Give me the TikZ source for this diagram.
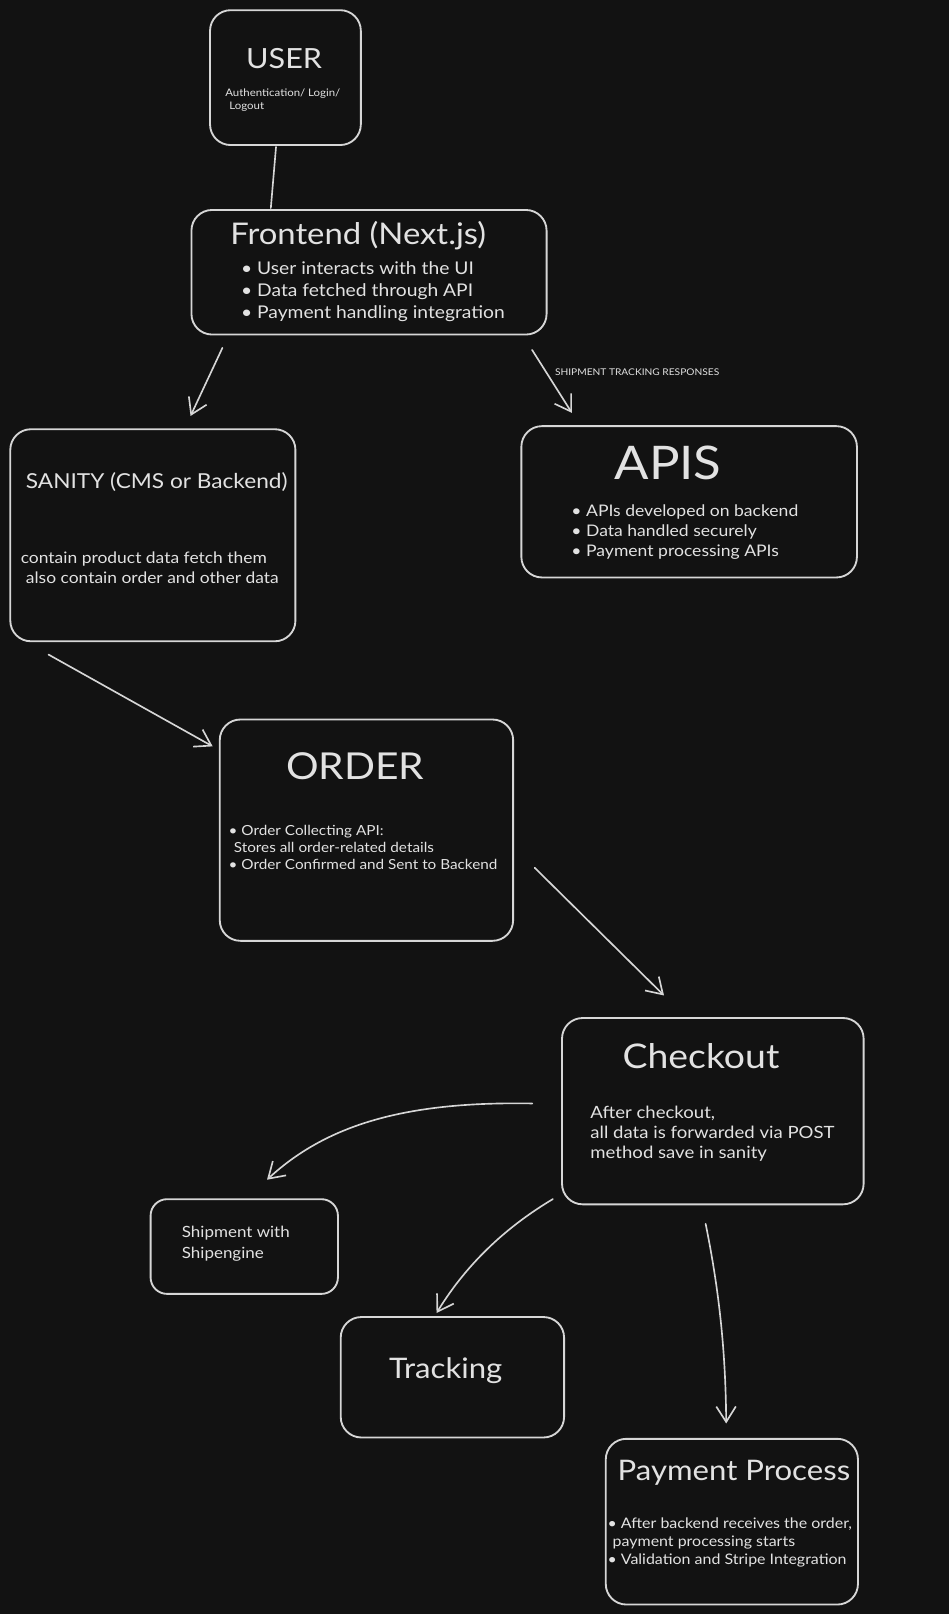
\documentclass[tikz,border=0pt]{standalone}
\usepackage{fontspec}
\setmainfont{Lato}[FakeStretch=1.1]
\usetikzlibrary{arrows.meta}
\definecolor{bgc}{HTML}{121212}
\definecolor{linec}{HTML}{D6D6D6}
\definecolor{textc}{HTML}{E2E2E2}
\newcommand{\fs}[2]{\fontsize{#1}{#2}\selectfont}
\begin{document}
\begin{tikzpicture}[x=1pt,y=-1pt,
    box/.style={draw=linec,line width=1.8pt,rounded corners=20pt,inner sep=0pt},
    txt/.style={text=textc,inner sep=0pt,align=left},
    conn/.style={draw=linec,line width=1.6pt,line cap=round},
    arr/.style={conn,-{Straight Barb[length=15pt,width=19pt,line width=1.6pt]}}]
    % Background
    \fill[bgc] (0,0) rectangle (922,1568);
    \useasboundingbox (0,0) rectangle (922,1568);
    % Boxes
    \node[box,minimum width=146.5pt,minimum height=131pt] (user) at (277.3,75.4) {};
    \node[box,minimum width=345pt,minimum height=121pt] (front) at (358.5,264.5) {};
    \node[box,minimum width=277pt,minimum height=206pt] (sanity) at (148.5,520) {};
    \node[box,minimum width=326pt,minimum height=147pt] (apis) at (669.5,487.5) {};
    \node[box,minimum width=285pt,minimum height=215pt] (order) at (356,806.5) {};
    \node[box,minimum width=293pt,minimum height=181pt] (checkout) at (692.5,1079.5) {};
    \node[box,minimum width=182pt,minimum height=92pt,rounded corners=16pt] (ship) at (237.3,1211) {};
    \node[box,minimum width=217pt,minimum height=117pt] (track) at (439.5,1338) {};
    \node[box,minimum width=245pt,minimum height=161pt] (pay) at (711,1478.3) {};
    % Texts
    \node[txt,font=\fs{27}{30}] (usertitle) at (276,56.5) {USER};
    \node[txt,anchor=west,font=\fs{10.1}{12.5}] (userdesc) at (218.7,97) {Authentication/ Login/\\\hspace{4pt}Logout};
    \node[txt,font=\fs{29}{32}] (fronttitle) at (348,229) {Frontend (Next.js)};
    \node[txt,anchor=west,font=\fs{17}{21.5}] (frontlist) at (234,283) {• User interacts with the UI\\• Data fetched through API\\• Payment handling integration};
    \node[txt,anchor=west,font=\fs{20}{24}] (sanitytitle) at (25,468) {SANITY (CMS or Backend)};
    \node[txt,anchor=west,font=\fs{15.4}{19}] (sanitytext) at (20,551.5) {contain product data fetch them\\\hspace{5pt}also contain order and other data};
    \node[txt,font=\fs{45}{48}] (apistitle) at (649,450) {APIS};
    \node[txt,anchor=west,font=\fs{15.5}{19.5}] (apislist) at (555,516.5) {• APIs developed on backend\\• Data handled securely\\• Payment processing APIs};
    \node[txt,font=\fs{36}{40}] (ordertitle) at (345,744) {ORDER};
    \node[txt,anchor=west,font=\fs{13.5}{16.5}] (orderlist) at (222,823.5) {• Order Collecting API:\\\hspace{5pt}Stores all order-related details\\• Order Confirmed and Sent to Backend};
    \node[txt,font=\fs{33}{36}] (checkouttitle) at (681,1026) {Checkout};
    \node[txt,anchor=west,font=\fs{16.4}{19.8}] (checkouttext) at (573.4,1101.5) {After checkout,\\all data is forwarded via POST\\method save in sanity};
    \node[txt,anchor=west,font=\fs{15}{20}] (shiptext) at (176.5,1208) {Shipment with\\Shipengine};
    \node[txt,font=\fs{27.5}{30}] (tracktitle) at (433,1332) {Tracking};
    \node[txt,font=\fs{27.5}{32}] (paytitle) at (713,1431) {Payment Process};
    \node[txt,anchor=west,font=\fs{14.1}{17.5}] (paylist) at (590,1498.5) {• After backend receives the order,\\\hspace{5pt}payment processing starts\\• Validation and Stripe Integration};
    % Connectors
    \draw[conn] ([shift={(65,1)}]user.south west) -- ([shift={(78,-1)}]front.north west);
    \draw[arr] ([shift={(31,12)}]front.south west) -- ([shift={(176,-12)}]sanity.north west);
    \draw[arr] ([shift={(-15,14)}]front.south east) -- node[txt,pos=0.4,anchor=west,xshift=6pt,yshift=3pt,font=\fs{9}{10}] (shiplabel) {SHIPMENT TRACKING RESPONSES} ([shift={(50,-12)}]apis.north west);
    \draw[arr] ([shift={(38,12)}]sanity.south west) -- ([shift={(-6,27)}]order.north west);
    \draw[arr] ([shift={(20,36.5)}]order.east) -- ([shift={(100,-21)}]checkout.north west);
    \draw[arr] ([shift={(-28,-7.5)}]checkout.west) .. controls (400,1070) and (320,1090) .. ([shift={(114,-18)}]ship.north west);
    \draw[arr] ([shift={(-8,-6)}]checkout.south west) .. controls (495,1190) and (455,1225) .. ([shift={(94,-3)}]track.north west);
    \draw[arr] ([shift={(-7,18)}]checkout.south) .. controls (700,1260) and (705,1320) .. ([shift={(-5.5,-14)}]pay.north);
\end{tikzpicture}
\end{document}
